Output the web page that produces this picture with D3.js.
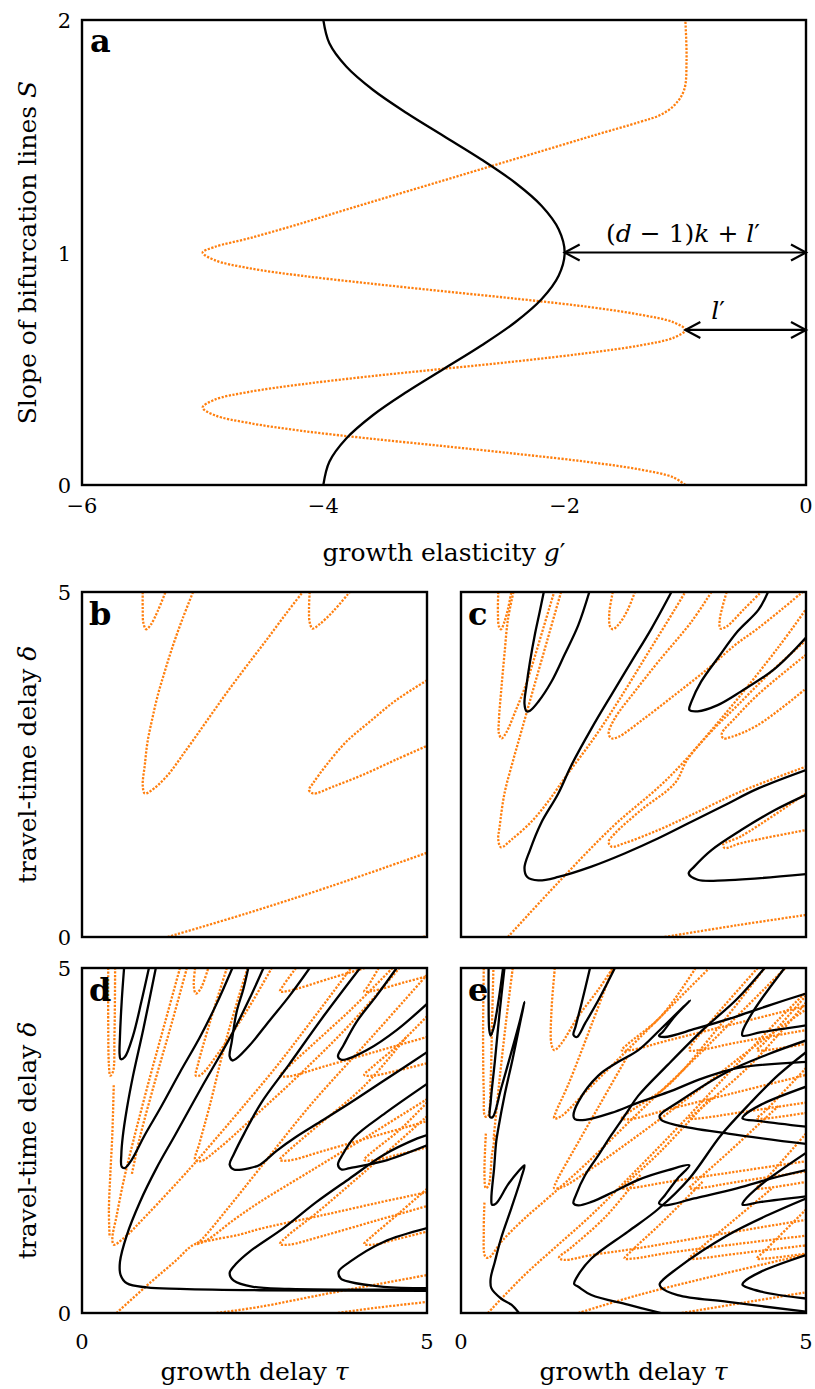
<!DOCTYPE html>
<html><head><meta charset="utf-8">
<script src="https://cdn.jsdelivr.net/npm/d3@7"></script>
<style>
body{margin:0;background:#fff}
text{font-family:"DejaVu Serif","Liberation Serif",serif;fill:#000}
</style></head>
<body><svg id="fig" width="815" height="1389"></svg>
<script>
// ---------- Panel a data (slope S vs growth elasticity g') ----------
const aS = [0,0.1,0.2,0.3,0.4,0.5,0.6,0.7,0.8,0.9,1.0,1.1,1.2,1.3,1.4,1.5,1.6,1.7,1.8,1.9,2.0];
const aBlackG = [-4,-3.95,-3.81,-3.59,-3.31,-3,-2.69,-2.41,-2.19,-2.05,-2,-2.05,-2.19,-2.41,-2.69,-3,-3.31,-3.59,-3.81,-3.95,-4];
const aOrangeS = [0,0.033,0.067,0.1,0.133,0.167,0.2,0.233,0.267,0.3,0.333,0.367,0.4,0.433,0.467,0.5,0.533,0.567,0.6,0.633,0.667,
  0.7,0.733,0.767,0.8,0.833,0.867,0.9,0.933,0.967,1.0,
  1.024,1.062,1.118,1.183,1.247,1.312,1.376,1.441,1.505,1.561,1.591,1.634,1.699,1.828,2.0];
const aOrangeG = [-1,-1.1,-1.38,-1.82,-2.38,-3,-3.62,-4.18,-4.62,-4.9,-5,-4.9,-4.62,-4.18,-3.62,-3,-2.38,-1.82,-1.38,-1.1,-1,
  -1.1,-1.38,-1.82,-2.38,-3,-3.62,-4.18,-4.62,-4.9,-5,
  -4.9,-4.61,-4.23,-3.82,-3.41,-2.99,-2.58,-2.16,-1.75,-1.38,-1.21,-1.09,-1.01,-0.99,-1.0];
const aXTicks = [-6,-4,-2,0];
const aYTicks = [0,1,2];
// annotation arrows: [g' from, g' to, S]
const arrowBig = [-2, 0, 1];
const arrowSmall = [-1, 0, 0.667];

// ---------- Panels b-e: bifurcation curves as [tau, delta] points ----------
const bOrange = [
  [[1.61,5.0],[1.46,4.62],[1.32,4.23],[1.20,3.85],[1.10,3.51],[1.02,3.17],[0.95,2.83],[0.91,2.49],[0.88,2.20],[0.91,2.08],[1.0,2.12],[1.22,2.32],[1.51,2.71],[1.80,3.12],[2.09,3.53],[2.38,3.92],[2.67,4.30],[2.96,4.69],[3.20,5.0]],
  [[0.88,5.0],[0.88,4.75],[0.89,4.55],[0.93,4.46],[1.0,4.53],[1.1,4.73],[1.21,5.0]],
  [[3.30,5.0],[3.29,4.75],[3.30,4.56],[3.34,4.47],[3.44,4.53],[3.64,4.72],[3.88,5.0]],
  [[5.0,3.72],[4.55,3.43],[4.17,3.12],[3.83,2.83],[3.54,2.49],[3.35,2.23],[3.29,2.13],[3.35,2.08],[3.64,2.18],[4.07,2.35],[4.55,2.57],[5.0,2.77]],
  [[1.24,0],[2.38,0.34],[3.59,0.73],[5.0,1.22]],
  [[4.94,0],[5.0,0.02]]
];
const bBlack = [];

const cBlack = [
  [[1.20,5.0],[1.14,4.71],[1.07,4.38],[1.0,3.99],[0.95,3.65],[0.92,3.38],[0.95,3.27],[1.0,3.28],[1.12,3.41],[1.31,3.70],[1.50,4.09],[1.70,4.52],[1.86,5.0]],
  [[3.05,5.0],[2.76,4.47],[2.47,3.99],[2.18,3.51],[1.89,3.02],[1.60,2.49],[1.41,2.08],[1.16,1.65],[1.0,1.26],[0.92,1.0],[0.96,0.87],[1.12,0.82],[1.41,0.87],[1.89,1.02],[2.37,1.21],[2.86,1.43],[3.34,1.67],[3.82,1.91],[4.30,2.15],[5.0,2.42]],
  [[4.45,5.0],[4.31,4.74],[4.01,4.43],[3.72,4.04],[3.48,3.70],[3.34,3.41],[3.31,3.29],[3.43,3.27],[3.72,3.36],[4.06,3.56],[4.55,3.89],[5.0,4.34]],
  [[5.0,2.06],[4.55,1.84],[4.06,1.55],[3.63,1.26],[3.38,1.02],[3.30,0.92],[3.43,0.83],[3.82,0.82],[4.30,0.85],[5.0,0.91]]
];
const cOrange = [
  [[0.54,5.0],[0.535,4.7],[0.55,4.5],[0.58,4.46],[0.63,4.57],[0.68,4.75],[0.73,5.0]],
  [[0.76,5.0],[0.68,4.6],[0.63,4.1],[0.585,3.6],[0.55,3.15],[0.55,2.95],[0.59,2.88],[0.66,2.97],[0.78,3.25],[0.92,3.6],[1.05,4.0],[1.2,4.5],[1.35,5.0]],
  [[1.45,5.0],[1.25,4.3],[1.05,3.6],[0.88,3.0],[0.75,2.54],[0.63,2.08],[0.56,1.60],[0.54,1.41],[0.58,1.30],[0.73,1.41],[1.02,1.67],[1.26,1.96],[1.55,2.37],[1.94,2.9],[2.3,3.45],[2.7,4.1],[3.1,4.75],[3.25,5.0]],
  [[2.2,5.0],[2.15,4.7],[2.16,4.5],[2.2,4.46],[2.3,4.55],[2.42,4.75],[2.52,5.0]],
  [[3.63,5.0],[3.34,4.57],[2.86,3.99],[2.52,3.56],[2.23,3.17],[2.14,2.95],[2.18,2.88],[2.28,2.9],[2.66,3.17],[3.1,3.51],[3.58,3.89],[3.97,4.23],[4.3,4.47],[4.65,4.75],[4.95,5.0]],
  [[5.0,4.09],[4.3,3.51],[3.97,3.17],[3.78,2.95],[3.8,2.88],[3.92,2.9],[4.3,3.07],[5.0,3.6]],
  [[3.85,5.0],[3.75,4.6],[3.76,4.47],[3.85,4.5],[4.1,4.75],[4.35,5.0]],
  [[5.0,4.3],[4.5,3.85],[4.0,3.35],[3.6,2.95],[3.28,2.57],[3.1,2.23],[2.61,1.84],[2.23,1.50],[2.14,1.38],[2.18,1.31],[2.37,1.36],[2.86,1.55],[3.34,1.77],[4.06,2.11],[5.0,2.47]],
  [[5.0,2.08],[4.06,1.46],[3.8,1.34],[3.82,1.29],[4.06,1.36],[5.0,1.55]],
  [[0.68,0],[1.4,0.78],[2.2,1.6],[3.0,2.3],[3.8,3.2],[4.6,4.2],[5.0,4.75]],
  [[2.95,0],[4.0,0.17],[5.0,0.32]]
];

const dBlack = [
  [[0.61,5.0],[0.575,4.51],[0.55,4.0],[0.545,3.75],[0.56,3.68],[0.62,3.71],[0.74,4.02],[0.86,4.51],[0.97,5.0]],
  [[1.07,5.0],[0.89,4.12],[0.74,3.44],[0.65,2.96],[0.59,2.55],[0.57,2.3],[0.575,2.12],[0.62,2.10],[0.72,2.22],[0.91,2.58],[1.13,2.96],[1.42,3.49],[1.71,4.0],[1.95,4.48],[2.18,5.0]],
  [[2.63,5.0],[2.43,4.56],[2.15,4.0],[1.75,3.3],[1.35,2.58],[1.08,2.10],[0.84,1.61],[0.65,1.13],[0.55,0.74],[0.56,0.55],[0.65,0.43],[0.94,0.37],[1.42,0.35],[2.58,0.33],[5.0,0.32]],
  [[2.41,5.0],[2.34,4.70],[2.24,4.36],[2.17,3.93],[2.14,3.72],[2.18,3.66],[2.24,3.69],[2.43,3.88],[2.72,4.24],[3.01,4.60],[3.30,5.0]],
  [[4.03,5.0],[3.5,4.3],[3.0,3.6],[2.6,3.05],[2.35,2.6],[2.2,2.3],[2.14,2.15],[2.2,2.08],[2.43,2.10],[2.58,2.15],[2.82,2.35],[3.10,2.55],[3.5,2.8],[4.0,3.12],[4.5,3.45],[5.0,3.78]],
  [[5.0,2.58],[4.86,2.53],[4.37,2.29],[3.88,1.95],[3.40,1.61],[2.92,1.23],[2.43,0.89],[2.24,0.72],[2.14,0.58],[2.2,0.47],[2.48,0.38],[3.0,0.35],[5.0,0.34]],
  [[4.56,5.0],[4.27,4.60],[3.98,4.22],[3.79,3.88],[3.71,3.72],[3.76,3.67],[3.84,3.68],[4.13,3.81],[4.56,4.10],[5.0,4.48]],
  [[5.0,3.32],[4.4,2.9],[3.95,2.55],[3.78,2.3],[3.71,2.15],[3.76,2.08],[3.88,2.10],[4.37,2.2],[5.0,2.43]],
  [[5.0,1.23],[4.37,1.03],[3.88,0.74],[3.72,0.6],[3.75,0.5],[3.88,0.45],[4.37,0.38],[5.0,0.36]]
];
const dOrange = [
  [[0.38,5.0],[0.38,4.2],[0.39,3.6],[0.41,3.44],[0.45,3.5],[0.47,4.0],[0.48,5.0]],
  [[1.42,5.0],[1.2,4.2],[0.98,3.4],[0.74,2.48],[0.6,1.9],[0.5,1.4],[0.44,1.08],[0.46,0.99],[0.6,1.08],[0.94,1.42],[1.57,2.10],[1.9,2.48],[2.3,2.95],[2.8,3.55],[3.3,4.2],[3.9,5.0]],
  [[0.46,3.3],[0.44,2.6],[0.41,2.0],[0.39,1.5],[0.40,1.1]],
  [[1.52,5.0],[1.3,4.2],[1.07,3.4],[0.84,2.55],[0.72,2.0]],
  [[0.50,0.0],[1.0,0.45],[1.35,0.75],[1.62,0.99],[1.9,1.06],[2.3,1.14],[2.58,1.22],[3.5,1.42],[4.3,1.6],[5.0,1.75]],
  [[5.0,4.9],[4.2,4.0],[3.3,3.0],[2.58,2.10],[2.1,1.5],[1.75,1.08],[1.66,1.0],[1.8,1.05],[2.2,1.35],[2.58,1.61],[3.3,2.05],[4.2,2.6],[5.0,3.1]],
  [[1.64,5.0],[1.62,4.75],[1.65,4.63],[1.72,4.7],[1.83,5.0]],
  [[2.1,5.0],[1.85,4.2],[1.68,3.6],[1.65,3.44],[1.72,3.45],[2.0,3.8],[2.4,4.4],[2.75,5.0]],
  [[2.4,5.0],[2.1,4.0],[1.85,3.0],[1.7,2.45],[1.64,2.22],[1.72,2.2],[2.0,2.4],[2.5,2.85],[3.2,3.5],[3.9,4.2],[4.6,5.0]],
  [[5.0,2.85],[4.1,2.05],[3.4,1.45],[2.97,1.11],[2.87,1.0],[3.0,0.99],[3.5,1.12],[4.3,1.35],[5.0,1.55]],
  [[5.0,1.8],[4.6,1.45],[4.19,1.1],[4.09,1.0],[4.22,0.99],[4.6,1.08],[5.0,1.18]],
  [[4.7,4.0],[4.1,3.3],[3.4,2.7],[2.97,2.33],[2.87,2.22],[3.0,2.21],[3.5,2.35],[4.3,2.58],[5.0,2.78]],
  [[5.0,3.05],[4.6,2.65],[4.19,2.32],[4.09,2.22],[4.22,2.21],[4.6,2.3],[5.0,2.4]],
  [[4.5,5.0],[3.9,4.4],[3.3,3.85],[2.95,3.53],[2.87,3.44],[3.0,3.43],[3.5,3.57],[4.3,3.8],[5.0,4.0]],
  [[5.0,4.3],[4.6,3.9],[4.19,3.55],[4.09,3.45],[4.22,3.44],[4.6,3.52],[5.0,3.62]],
  [[3.1,5.0],[2.92,4.75],[2.87,4.66],[3.0,4.67],[3.6,4.85],[4.1,5.0]],
  [[4.3,5.0],[4.14,4.73],[4.09,4.66],[4.22,4.67],[4.7,4.8],[5.0,4.88]],
  [[1.95,0],[2.58,0.09],[3.5,0.27],[4.3,0.42],[5.0,0.55]],
  [[3.71,0],[4.3,0.08],[5.0,0.16]]
];

const eBlack = [
  [[0.40,5.0],[0.40,4.5],[0.41,4.1],[0.43,4.02],[0.47,4.12],[0.54,4.5],[0.61,5.0]],
  [[0.63,5.0],[0.56,4.36],[0.49,3.64],[0.43,3.06],[0.42,2.84],[0.46,2.84],[0.58,3.25],[0.73,3.78],[0.85,4.22],[0.92,4.51],[0.87,4.27],[0.75,3.69],[0.63,3.15],[0.54,2.67],[0.51,2.48],[0.48,2.1],[0.44,1.66],[0.45,1.57],[0.51,1.59],[0.68,1.86],[0.83,2.05],[0.92,2.14],[0.87,1.95],[0.73,1.52],[0.58,1.08],[0.49,0.74],[0.43,0.50],[0.44,0.36],[0.58,0.21],[0.73,0.12],[0.84,0.0]],
  [[1.87,5.0],[1.75,4.5],[1.66,4.15],[1.63,4.03],[1.68,4.0],[1.8,4.2],[2.0,4.55],[2.23,5.0]],
  [[5.0,3.64],[4.0,3.55],[3.5,3.4],[3.0,3.2],[2.57,3.05],[2.18,2.9],[1.8,2.8],[1.65,2.81],[1.63,2.86],[1.70,3.06],[1.99,3.44],[2.28,3.64],[2.57,3.81],[2.9,4.12],[3.32,4.53],[3.1,4.3],[2.92,4.07],[2.87,4.02],[2.95,4.0],[3.4,4.12],[4.0,4.3],[4.5,4.47],[5.0,4.63]],
  [[4.4,5.0],[4.0,4.55],[3.5,4.1],[3.0,3.6],[2.57,3.15],[2.4,2.9],[2.18,2.58],[2.0,2.3],[1.8,2.0],[1.67,1.72],[1.63,1.59],[1.7,1.56],[1.89,1.61],[2.2,1.75],[2.57,1.93],[3.0,2.07],[3.31,2.14],[3.14,1.95],[2.95,1.7],[2.87,1.59],[2.95,1.56],[3.38,1.66],[4.01,1.81],[4.5,1.95],[5.0,2.07]],
  [[5.0,3.78],[4.6,3.45],[4.2,3.05],[3.77,2.58],[3.31,1.95],[2.85,1.5],[2.42,1.18],[1.89,0.79],[1.68,0.52],[1.64,0.42],[1.7,0.38],[1.89,0.26],[2.42,0.12],[2.90,0.0]],
  [[5.0,1.66],[4.45,1.42],[3.87,1.13],[3.14,0.65],[2.88,0.42],[2.9,0.37],[3.14,0.26],[3.87,0.16],[5.0,0.02]],
  [[5.0,2.32],[4.35,1.86],[4.1,1.62],[4.08,1.57],[4.35,1.61],[5.0,1.69]],
  [[5.0,0.84],[4.35,0.60],[4.1,0.45],[4.08,0.41],[4.35,0.31],[5.0,0.21]],
  [[4.69,5.0],[4.26,4.41],[4.08,4.08],[4.08,4.02],[4.35,4.07],[5.0,4.17]],
  [[5.0,3.95],[4.45,3.75],[3.87,3.5],[3.14,3.05],[2.88,2.86],[2.9,2.8],[3.14,2.72],[3.87,2.6],[5.0,2.45]],
  [[5.0,3.28],[4.35,3.02],[4.1,2.86],[4.08,2.82],[4.35,2.78],[5.0,2.7]]
];
const eOrange = [
  [[0.33,5.0],[0.32,4.0],[0.33,3.2],[0.35,2.85],[0.39,2.85],[0.43,3.4],[0.45,4.2],[0.47,5.0]],
  [[0.36,2.6],[0.34,2.0],[0.36,1.81],[0.4,1.85],[0.45,2.3],[0.5,2.6]],
  [[0.34,1.6],[0.33,1.2],[0.35,0.82],[0.4,0.8],[0.6,1.05],[0.9,1.35],[1.3,1.7],[1.8,2.15],[2.57,2.9],[3.3,3.6],[4.0,4.3],[4.7,5.0]],
  [[0.39,0],[0.92,0.55],[1.41,0.99],[1.89,1.42],[2.57,2.1],[3.2,2.75],[3.9,3.5],[4.6,4.25],[5.0,4.65]],
  [[0.75,5.0],[0.65,4.2],[0.55,3.3],[0.47,2.5]],
  [[1.36,5.0],[1.31,4.36],[1.31,3.9],[1.35,3.81],[1.45,3.9],[1.7,4.3],[2.0,4.7],[2.2,5.0]],
  [[2.2,5.0],[1.9,4.2],[1.55,3.3],[1.37,2.9],[1.35,2.82],[1.45,2.85],[1.8,3.2],[2.3,3.7],[2.9,4.3],[3.6,5.0]],
  [[2.4,3.7],[2.0,3.0],[1.6,2.3],[1.38,1.9],[1.35,1.81],[1.48,1.83],[1.9,2.1],[2.6,2.6],[3.4,3.2],[4.3,3.9],[5.0,4.4]],
  [[2.6,2.0],[2.1,1.4],[1.6,0.95],[1.42,0.8],[1.5,0.77],[1.89,0.84],[2.57,0.94],[3.5,1.1],[5.0,1.35]],
  [[3.5,1.9],[2.9,1.3],[2.45,0.88],[2.37,0.79],[2.5,0.79],[3.0,0.87],[4.0,1.0],[5.0,1.12]],
  [[4.5,1.8],[3.9,1.3],[3.4,0.88],[3.31,0.79],[3.45,0.79],[4.0,0.86],[5.0,0.98]],
  [[4.6,3.0],[3.9,2.35],[3.4,1.9],[3.31,1.81],[3.45,1.81],[4.0,1.9],[5.0,2.05]],
  [[3.6,3.1],[2.9,2.35],[2.42,1.9],[2.33,1.81],[2.46,1.81],[3.0,1.9],[4.0,2.05],[5.0,2.2]],
  [[4.4,5.0],[3.7,4.1],[3.0,3.3],[2.42,2.9],[2.33,2.82],[2.46,2.81],[3.0,2.95],[4.0,3.2],[5.0,3.45]],
  [[5.0,4.5],[4.2,3.6],[3.4,2.9],[3.31,2.82],[3.45,2.82],[4.0,2.9],[5.0,3.05]],
  [[5.0,3.55],[4.4,2.92],[4.29,2.82],[4.42,2.82],[5.0,2.9]],
  [[3.4,5.0],[2.9,4.3],[2.42,3.9],[2.33,3.81],[2.46,3.81],[3.0,3.95],[4.0,4.2],[5.0,4.45]],
  [[4.3,5.0],[3.6,4.2],[3.31,3.81],[3.45,3.81],[4.0,3.92],[5.0,4.1]],
  [[5.0,4.6],[4.4,3.92],[4.29,3.81],[4.42,3.81],[5.0,3.9]],
  [[5.0,2.6],[4.4,1.92],[4.29,1.81],[4.42,1.81],[5.0,1.9]],
  [[5.0,1.5],[4.4,0.9],[4.29,0.79],[4.42,0.79],[5.0,0.86]],
  [[1.70,0],[2.57,0.26],[3.6,0.52],[5.0,0.85]],
  [[3.2,0],[4.1,0.15],[5.0,0.3]]
];

// ---------- drawing ----------
const svg = d3.select('#fig');
const ORANGE = '#ff7f0e';
const TICK_FS = 21, LAB_FS = 25;

function mathText(sel, parts){
  parts.forEach(p=>{
    const t = sel.append('tspan').text(p[0]);
    if(p[1]) t.attr('font-style','italic');
  });
  return sel;
}
function frame(g, x0,y0,w,h){
  g.append('rect').attr('x',x0).attr('y',y0).attr('width',w).attr('height',h)
   .attr('fill','none').attr('stroke','#000').attr('stroke-width',2.4);
}
const dotted = p => p.attr('fill','none').attr('stroke',ORANGE).attr('stroke-width',2.3).attr('stroke-dasharray','2.2,1.5');
const solid = p => p.attr('fill','none').attr('stroke','#000').attr('stroke-width',2.3);

// Panel a
(function(){
  const x0=82,x1=806,y0=20,y1=485;
  const x = d3.scaleLinear().domain([-6,0]).range([x0,x1]);
  const y = d3.scaleLinear().domain([0,2]).range([y1,y0]);
  const g = svg.append('g');
  g.append('clipPath').attr('id','clipA').append('rect').attr('x',x0).attr('y',y0).attr('width',x1-x0).attr('height',y1-y0);
  const pl = g.append('g').attr('clip-path','url(#clipA)');
  const line = d3.line().x(d=>x(d[0])).y(d=>y(d[1])).curve(d3.curveCatmullRom.alpha(0.5));
  dotted(pl.append('path').attr('d', line(aOrangeS.map((s,i)=>[aOrangeG[i],s]))));
  solid(pl.append('path').attr('d', line(aS.map((s,i)=>[aBlackG[i],s]))));
  function dblArrow(a){
    const xa=x(a[0]), xb=x(a[1]), yy=y(a[2]);
    g.append('line').attr('x1',xa).attr('x2',xb).attr('y1',yy).attr('y2',yy).attr('stroke','#000').attr('stroke-width',2.2);
    [[xa,1],[xb,-1]].forEach(([xx,s])=>{
      g.append('path').attr('d',`M${xx+s*15},${yy-8}L${xx},${yy}L${xx+s*15},${yy+8}`)
       .attr('fill','none').attr('stroke','#000').attr('stroke-width',2.2);
    });
  }
  dblArrow(arrowBig); dblArrow(arrowSmall);
  const t1 = g.append('text').attr('x',683).attr('y',y(arrowBig[2])-11)
    .attr('text-anchor','middle').attr('font-size',LAB_FS);
  mathText(t1,[['(',0],['d',1],[' − 1)',0],['k',1],[' + ',0],['l',1],['′',0]]);
  const t2 = g.append('text').attr('x',718).attr('y',y(arrowSmall[2])-11)
    .attr('text-anchor','middle').attr('font-size',LAB_FS);
  mathText(t2,[['l',1],['′',0]]);
  frame(g,x0,y0,x1-x0,y1-y0);
  aXTicks.forEach(v=>{
    g.append('text').attr('x',x(v)).attr('y',y1+28).attr('text-anchor','middle').attr('font-size',TICK_FS).text(v<0?'−'+Math.abs(v):v);
  });
  aYTicks.forEach(v=>{
    g.append('text').attr('x',x0-11).attr('y',y(v)+8).attr('text-anchor','end').attr('font-size',TICK_FS).text(v);
  });
  const xl = g.append('text').attr('x',(x0+x1)/2).attr('y',561).attr('text-anchor','middle').attr('font-size',LAB_FS);
  mathText(xl,[['growth elasticity ',0],['g',1],['′',0]]);
  const yl = g.append('text').attr('transform',`translate(36,${(y0+y1)/2}) rotate(-90)`).attr('text-anchor','middle').attr('font-size',LAB_FS);
  mathText(yl,[['Slope of bifurcation lines ',0],['S',1]]);
  g.append('text').attr('x',x0+8).attr('y',y0+32).attr('font-size',32).attr('font-weight','bold').text('a');
})();

// Panels b-e
const tauTicks=[0,5], deltaTicks=[0,5];
function panel(id, label, x0, y0, blackCurves, orangeCurves, showY, showX){
  const w=345,h=345;
  const x = d3.scaleLinear().domain([0,5]).range([x0,x0+w]);
  const y = d3.scaleLinear().domain([0,5]).range([y0+h,y0]);
  const g = svg.append('g');
  g.append('clipPath').attr('id','clip'+id).append('rect').attr('x',x0).attr('y',y0).attr('width',w).attr('height',h);
  const pl = g.append('g').attr('clip-path',`url(#clip${id})`);
  const line = d3.line().x(d=>x(d[0])).y(d=>y(d[1])).curve(d3.curveCatmullRom.alpha(0.5));
  orangeCurves.forEach(c=>dotted(pl.append('path').attr('d',line(c))));
  blackCurves.forEach(c=>solid(pl.append('path').attr('d',line(c))));
  frame(g,x0,y0,w,h);
  g.append('text').attr('x',x0+7).attr('y',y0+33).attr('font-size',32).attr('font-weight','bold').text(label);
  if(showY){
    deltaTicks.forEach(v=>g.append('text').attr('x',x0-11).attr('y',y(v)+8).attr('text-anchor','end').attr('font-size',TICK_FS).text(v));
    const yl = g.append('text').attr('transform',`translate(36,${y0+h/2}) rotate(-90)`).attr('text-anchor','middle').attr('font-size',LAB_FS);
    mathText(yl,[['travel-time delay ',0],['δ',1]]);
  }
  if(showX){
    tauTicks.forEach(v=>g.append('text').attr('x',x(v)).attr('y',y0+h+36).attr('text-anchor','middle').attr('font-size',TICK_FS).text(v));
    const xl = g.append('text').attr('x',x0+w/2).attr('y',y0+h+67).attr('text-anchor','middle').attr('font-size',LAB_FS);
    mathText(xl,[['growth delay ',0],['τ',1]]);
  }
}
panel('B','b',82,592,bBlack,bOrange,true,false);
panel('C','c',461,592,cBlack,cOrange,false,false);
panel('D','d',82,968,dBlack,dOrange,true,true);
panel('E','e',461,968,eBlack,eOrange,false,true);
</script></body></html>
